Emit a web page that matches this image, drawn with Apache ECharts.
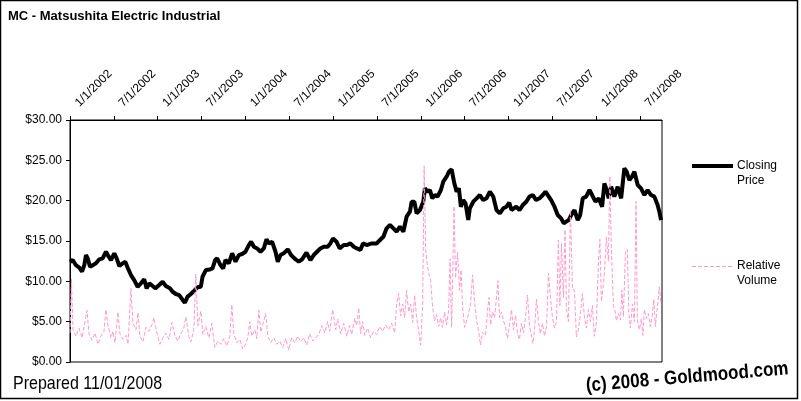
<!DOCTYPE html>
<html>
<head>
<meta charset="utf-8">
<script src="https://cdn.jsdelivr.net/npm/echarts@6/dist/echarts.min.js"></script>
<style>html,body{margin:0;padding:0;background:#fff}#c{width:801px;height:401px}</style>
</head>
<body>
<div id="c"></div>
<script>
// Years since 1/1/2002 (x positions) and values
var priceT = [0.000,0.031,0.068,0.106,0.137,0.163,0.182,0.202,0.228,0.259,0.296,0.334,0.372,0.410,0.441,0.467,0.505,0.532,0.562,0.600,0.630,0.657,0.695,0.732,0.771,0.809,0.846,0.874,0.903,0.934,0.972,1.017,1.056,1.093,1.139,1.170,1.207,1.245,1.284,1.310,1.341,1.378,1.416,1.454,1.492,1.511,1.549,1.595,1.625,1.655,1.678,1.716,1.746,1.773,1.811,1.849,1.887,1.925,1.962,2.001,2.039,2.065,2.096,2.133,2.172,2.210,2.240,2.267,2.304,2.343,2.369,2.400,2.437,2.483,2.520,2.559,2.608,2.646,2.696,2.741,2.779,2.817,2.855,2.893,2.938,2.969,2.999,3.038,3.075,3.121,3.158,3.197,3.235,3.272,3.311,3.341,3.383,3.440,3.497,3.534,3.573,3.610,3.648,3.687,3.724,3.762,3.801,3.838,3.876,3.895,3.926,3.952,3.990,4.028,4.047,4.077,4.104,4.131,4.161,4.191,4.229,4.256,4.294,4.320,4.351,4.382,4.408,4.434,4.457,4.484,4.510,4.541,4.559,4.598,4.636,4.673,4.712,4.749,4.787,4.826,4.863,4.901,4.940,4.977,5.008,5.034,5.049,5.088,5.125,5.163,5.202,5.239,5.277,5.315,5.353,5.391,5.421,5.448,5.486,5.524,5.561,5.600,5.630,5.657,5.687,5.714,5.752,5.789,5.817,5.846,5.885,5.923,5.953,5.991,6.028,6.067,6.093,6.120,6.142,6.170,6.207,6.245,6.284,6.321,6.347,6.378,6.409,6.435,6.473,6.511,6.549,6.586,6.625,6.663,6.700,6.720,6.739];
var priceV = [12.43,12.64,12.0,11.7,11.2,12.0,13.26,12.85,11.8,12.0,12.23,12.73,12.85,13.67,13.05,12.64,13.47,12.85,11.9,12.23,12.43,11.7,10.78,10.16,9.33,9.75,10.25,9.13,9.75,9.5,9.13,9.54,9.95,9.42,9.13,8.71,8.43,8.3,7.69,7.35,8.1,8.43,8.84,9.26,9.33,10.57,11.4,11.47,11.6,12.64,12.85,12.02,11.6,12.64,12.23,13.47,12.43,13.26,13.39,13.67,14.5,14.91,14.29,14.08,13.67,14.08,15.2,14.7,14.91,13.67,12.43,13.26,13.47,13.97,13.26,12.85,12.43,12.73,13.55,12.64,13.26,13.67,14.08,14.29,14.29,14.7,15.33,14.91,14.08,14.5,14.5,14.7,14.29,14.08,13.88,14.7,14.5,14.7,14.7,15.12,15.53,16.57,16.98,16.57,16.15,16.77,16.15,18.01,18.63,19.87,19.87,18.43,18.84,19.87,21.53,21.11,21.32,20.29,20.7,20.5,21.32,22.35,22.97,23.59,23.88,22.15,21.11,21.53,19.25,20.08,19.67,17.6,19.05,19.87,20.29,20.7,20.08,20.29,21.11,20.5,18.84,18.43,19.05,19.25,19.75,18.84,19.05,19.25,18.84,19.46,19.87,20.5,20.7,20.08,20.29,20.7,21.11,20.7,20.08,19.25,18.22,17.81,17.19,17.4,17.6,18.22,18.84,17.6,18.22,20.29,20.5,21.32,20.7,19.87,20.29,19.25,22.15,21.32,20.29,21.73,20.5,21.73,20.29,24.01,23.59,22.56,23.0,23.59,21.94,21.53,20.7,21.32,20.7,20.5,19.46,18.63,17.6];

var volT = [0.000,0.017,0.034,0.068,0.103,0.137,0.171,0.194,0.216,0.251,0.285,0.319,0.353,0.387,0.410,0.433,0.467,0.490,0.513,0.547,0.569,0.604,0.638,0.661,0.695,0.718,0.752,0.775,0.797,0.831,0.866,0.900,0.934,0.957,0.991,1.025,1.059,1.093,1.128,1.162,1.196,1.230,1.264,1.298,1.321,1.355,1.378,1.412,1.435,1.458,1.492,1.515,1.549,1.583,1.617,1.651,1.686,1.720,1.754,1.788,1.822,1.845,1.868,1.902,1.936,1.970,2.005,2.027,2.050,2.073,2.107,2.130,2.153,2.175,2.198,2.232,2.255,2.289,2.323,2.358,2.392,2.426,2.460,2.494,2.528,2.563,2.597,2.631,2.665,2.699,2.733,2.768,2.802,2.836,2.870,2.904,2.938,2.961,2.995,3.030,3.052,3.087,3.121,3.155,3.189,3.212,3.246,3.269,3.292,3.314,3.337,3.360,3.394,3.428,3.462,3.497,3.531,3.565,3.599,3.633,3.667,3.702,3.724,3.747,3.770,3.793,3.815,3.838,3.861,3.884,3.907,3.929,3.952,3.975,3.998,4.021,4.038,4.055,4.072,4.089,4.112,4.134,4.157,4.180,4.203,4.226,4.248,4.271,4.294,4.317,4.334,4.351,4.379,4.396,4.419,4.442,4.459,4.476,4.499,4.533,4.567,4.590,4.613,4.636,4.658,4.681,4.704,4.738,4.761,4.778,4.795,4.818,4.841,4.863,4.880,4.897,4.920,4.943,4.966,4.989,5.011,5.034,5.057,5.080,5.103,5.125,5.148,5.171,5.194,5.216,5.239,5.262,5.279,5.296,5.319,5.342,5.364,5.387,5.410,5.433,5.456,5.478,5.501,5.524,5.547,5.569,5.586,5.604,5.626,5.644,5.661,5.683,5.706,5.729,5.752,5.774,5.797,5.820,5.843,5.866,5.888,5.911,5.934,5.957,5.979,6.002,6.025,6.042,6.059,6.076,6.093,6.116,6.139,6.156,6.173,6.196,6.213,6.230,6.253,6.276,6.293,6.310,6.333,6.355,6.372,6.390,6.412,6.435,6.454,6.469,6.492,6.515,6.532,6.549,6.572,6.595,6.617,6.640,6.657,6.674,6.697,6.720,6.739];
var volV = [3.6,10.3,4.0,3.2,4.2,3.0,5.0,6.4,3.5,2.7,3.6,2.2,3.2,3.8,6.5,4.5,3.0,3.8,2.4,6.2,3.5,2.8,3.3,2.2,9.1,4.8,4.0,6.1,3.2,2.5,4.3,3.8,4.6,5.5,3.6,2.2,3.0,3.6,2.8,4.9,3.3,2.6,3.5,4.2,5.6,3.2,2.5,4.0,10.9,4.5,6.3,3.4,4.4,3.0,4.8,1.8,2.6,2.2,2.9,2.0,3.2,7.1,3.5,2.4,2.8,1.6,2.3,3.0,5.0,3.2,4.0,2.9,6.4,3.7,4.6,6.0,3.2,2.4,3.0,2.2,2.6,1.8,2.9,1.5,3.0,2.4,3.2,2.5,3.0,2.1,3.5,2.6,3.0,3.4,4.5,3.6,5.0,3.8,6.5,4.0,5.3,3.5,4.8,3.2,4.5,3.4,5.4,4.5,6.7,3.5,5.0,3.3,4.2,3.0,3.8,3.4,4.4,3.8,4.6,4.0,4.8,3.6,7.2,8.5,5.7,7.2,5.5,8.9,6.2,7.2,4.9,8.3,5.5,3.9,2.1,7.2,24.3,14.0,12.2,11.0,10.1,6.9,5.1,5.9,4.4,5.5,4.3,6.2,4.6,6.4,12.8,4.3,19.3,10.4,13.6,8.9,11.4,6.9,4.3,5.5,7.2,10.8,7.5,5.1,3.9,2.1,3.7,3.3,6.4,8.0,4.6,6.2,5.5,8.0,10.1,5.5,6.2,5.1,4.3,2.9,4.6,6.5,4.0,5.8,3.5,2.8,4.8,3.6,5.6,8.3,4.5,3.2,2.3,4.0,7.8,5.0,3.5,4.8,3.2,4.4,11.0,8.0,5.5,4.2,5.0,15.1,7.0,14.7,8.0,16.4,6.5,5.0,18.8,9.0,8.9,3.1,4.0,6.0,8.5,5.5,4.2,6.5,5.0,7.0,3.2,4.8,12.4,15.2,7.5,9.0,11.0,15.5,12.5,23.0,13.9,7.0,6.4,5.1,6.0,5.2,8.9,5.6,13.6,14.0,6.0,4.2,7.2,5.0,19.9,5.2,4.0,5.4,3.3,6.5,5.4,6.0,4.4,5.8,7.8,4.4,6.8,9.3,7.2];

var startYear = 2002;
var yTicks = [0, 30, 5]; // min, max, interval
var seriesNames = ['Closing Price', 'Relative Volume'];

var priceData = priceT.map(function (t, i) { return [t, priceV[i]]; });
var volData = volT.map(function (t, i) { return [t, volV[i]]; });

var FONT = '"Liberation Sans", Arial, sans-serif';
var chart = echarts.init(document.getElementById('c'), null, { renderer: 'canvas' });
chart.setOption({
  animation: false,
  backgroundColor: '#fff',
  grid: { left: 70, right: 139, top: 120, bottom: 39, show: true, borderColor: '#000', borderWidth: 1, backgroundColor: 'transparent' },
  xAxis: {
    type: 'value', position: 'top', min: 0, max: 6.75, interval: 0.5,
    axisLine: { show: true, onZero: false, lineStyle: { color: '#000', width: 1 } },
    axisTick: { show: true, inside: false, length: 4, lineStyle: { color: '#000' } },
    splitLine: { show: false },
    axisLabel: {
      rotate: -45, margin: 8, padding: [0, 0, 0, 10], align: 'left', verticalAlign: 'middle', color: '#000', fontFamily: FONT, fontSize: 12,
      showMaxLabel: false,
      formatter: function (v) {
        var r = Math.round(v * 2) / 2;
        if (Math.abs(r - v) > 1e-6 || v > 6.6) return '';
        var yr = startYear + Math.floor(r);
        return (r % 1 === 0 ? '1/1/' : '7/1/') + yr;
      }
    }
  },
  yAxis: {
    type: 'value', min: yTicks[0], max: yTicks[1], interval: yTicks[2],
    axisLine: { show: true, lineStyle: { color: '#000', width: 1 } },
    axisTick: { show: true, inside: false, length: 4, lineStyle: { color: '#000' } },
    splitLine: { show: false },
    axisLabel: { color: '#000', fontFamily: FONT, fontSize: 12, margin: 8,
      formatter: function (v) { return '$' + v.toFixed(2); } }
  },
  series: [
    { name: seriesNames[0], type: 'line', data: priceData, showSymbol: false, symbol: 'none',
      lineStyle: { color: '#000', width: 4, join: 'bevel' }, z: 2 },
    { name: seriesNames[1], type: 'line', data: volData, showSymbol: false, symbol: 'none',
      lineStyle: { color: '#FF99CC', width: 1, type: [4, 2] }, z: 3 }
  ],
  graphic: [
    { type: 'rect', shape: { x: 0.5, y: 0.5, width: 797, height: 398 }, style: { fill: null, stroke: '#000', lineWidth: 1.5 }, silent: true },
    { type: 'text', x: 8, y: 16, style: { text: 'MC - Matsushita Electric Industrial', font: 'bold 13px ' + FONT, fill: '#000', textVerticalAlign: 'middle' } },
    { type: 'line', shape: { x1: 692, y1: 166, x2: 733, y2: 166 }, style: { stroke: '#000', lineWidth: 4 } },
    { type: 'text', x: 737, y: 166, style: { text: 'Closing', font: '12px ' + FONT, fill: '#000', textVerticalAlign: 'middle' } },
    { type: 'text', x: 737, y: 181, style: { text: 'Price', font: '12px ' + FONT, fill: '#000', textVerticalAlign: 'middle' } },
    { type: 'line', shape: { x1: 692, y1: 266.5, x2: 733, y2: 266.5 }, style: { stroke: '#FF99CC', lineWidth: 1, lineDash: [4, 2] } },
    { type: 'text', x: 737, y: 266, style: { text: 'Relative', font: '12px ' + FONT, fill: '#000', textVerticalAlign: 'middle' } },
    { type: 'text', x: 737, y: 281, style: { text: 'Volume', font: '12px ' + FONT, fill: '#000', textVerticalAlign: 'middle' } },
    { type: 'text', x: 13, y: 384, scaleY: 1.12, style: { text: 'Prepared 11/01/2008', font: '16px ' + FONT, fill: '#000', textVerticalAlign: 'middle' } },
    { type: 'text', x: 586, y: 386, rotation: 0.085, scaleY: 1.15, style: { text: '(c) 2008 - Goldmood.com', font: 'bold 17px ' + FONT, fill: '#000', textVerticalAlign: 'middle' } }
  ]
});
</script>
</body>
</html>
